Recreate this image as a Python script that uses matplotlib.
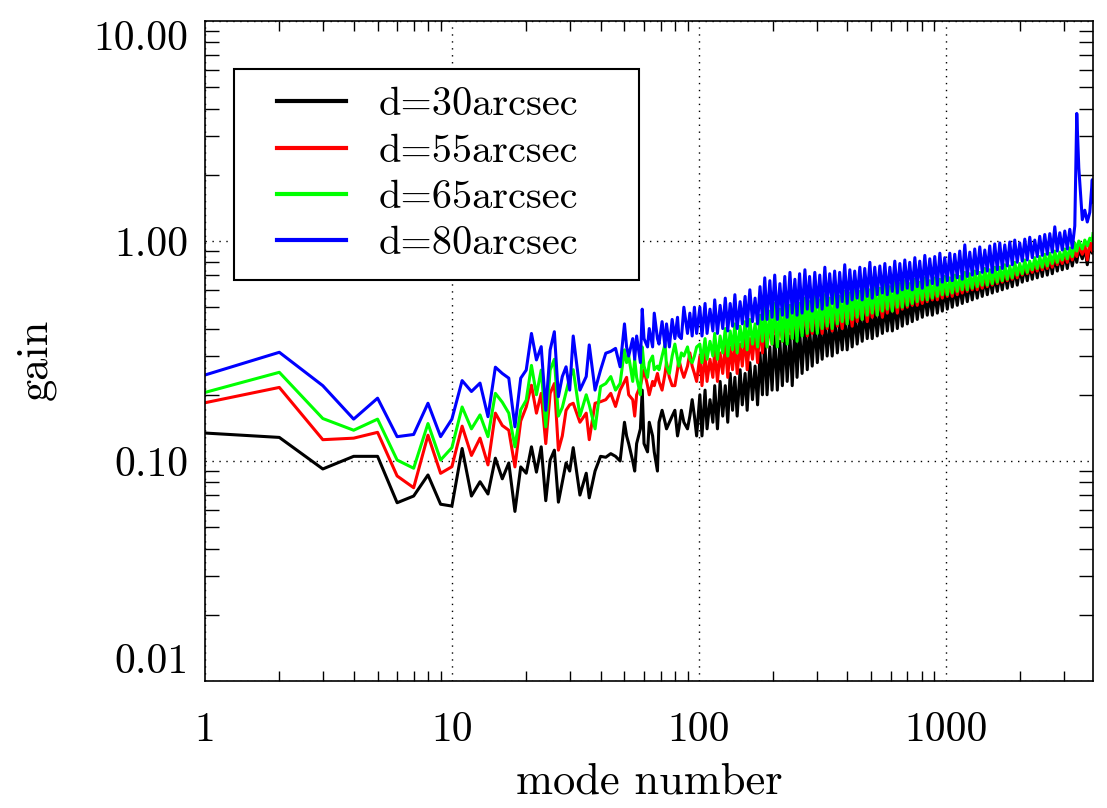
import matplotlib
matplotlib.use('Agg')
import matplotlib.pyplot as plt
from matplotlib.lines import Line2D
from matplotlib.legend_handler import HandlerLine2D
from matplotlib.ticker import LogLocator, NullFormatter

plt.rcParams['font.family'] = ['cmr10', 'DejaVu Serif']
plt.rcParams['axes.unicode_minus'] = False

# mode numbers: every mode up to 30, then sampled along the axis
modes_low = list(range(1, 31)) + [31, 33, 35, 36, 38, 40, 42, 44, 46, 48]
modes_50 = [
    50, 51, 52, 54, 55, 56, 58, 59, 60, 62,
    63, 65, 66, 68, 69, 71, 73, 74, 76, 78,
    80, 82, 83, 85, 87, 90, 92, 94, 96, 98]
modes_mid = [
    101, 103, 106, 108, 111, 114, 116, 119, 122, 125,
    128, 131, 134, 137, 140, 143, 147, 150, 154, 157,
    161, 165, 169, 173, 177, 181]
modes_dense = [
    185, 189, 194, 198, 203, 208, 213, 218, 223, 228,
    234, 239, 245, 250, 256, 262, 269, 275, 281, 288,
    295, 302, 309, 316, 324, 331, 339, 347, 355, 364,
    372, 381, 390, 399, 409, 418, 428, 438, 449, 459,
    470, 481, 493, 504, 516, 528, 541, 554, 567, 580,
    594, 608, 622, 637, 652, 667, 683, 699, 715, 732,
    750, 767, 785, 804, 823, 842, 862, 883, 903, 925,
    947, 969, 991, 1015, 1039, 1063, 1088, 1114, 1140, 1167,
    1195, 1223, 1252, 1281, 1311, 1342, 1374, 1406, 1440, 1474,
    1508, 1544, 1580, 1618, 1656, 1695, 1735, 1776, 1818, 1860,
    1904, 1949, 1995, 2042, 2091, 2140, 2190, 2242, 2295, 2349,
    2404, 2461, 2519, 2579, 2640, 2702, 2766, 2831, 2898, 2966,
    3036, 3108, 3181, 3256, 3333, 3395, 3460, 3575, 3659, 3745,
    3834, 3924, 3950]

d30_low = [
    .134, .128, .092, .105, .105, .0646, .0693, .0864, .0636, .0624,
    .114, .0693, .0805, .0708, .103, .083, .098, .059, .094, .088,
    .116, .089, .116, .066, .101, .112, .065, .08, .098, .09,
    .115, .07, .088, .068, .09, .105, .104, .108, .105, .10]
d30_50 = [
    .15, .13, .12, .10, .09, .12, .14, .21, .12, .11,
    .15, .13, .11, .09, .15, .17, .15, .14, .15, .16,
    .17, .13, .14, .17, .15, .14, .16, .19, .16, .13]
d30_mid = [
    .20, .13, .21, .14, .19, .15, .22, .14, .23, .16, .22, .15, .25,
    .17, .24, .16, .26, .18, .25, .17, .28, .19, .27, .18, .31, .20]
d30_dense = [
    .36, .20, .33, .21, .37, .21, .35, .22, .39, .23, .37, .22, .41, .24, .40, .25, .42, .26, .40, .27,
    .43, .28, .41, .29, .44, .30, .42, .30, .45, .31, .43, .32, .46, .32, .45, .33, .47, .34, .46, .35,
    .49, .36, .48, .36, .50, .37, .49, .38, .52, .39, .51, .39, .53, .40, .54, .41, .55, .42, .54, .43,
    .56, .44, .56, .45, .58, .46, .57, .46, .59, .47, .59, .48, .61, .49, .62, .50, .62, .51, .63, .52,
    .64, .53, .65, .54, .66, .55, .67, .56, .68, .57, .69, .58, .70, .59, .71, .60, .72, .61, .73, .62,
    .75, .63, .76, .65, .77, .66, .79, .67, .80, .68, .81, .69, .83, .70, .84, .71, .85, .73, .86, .74,
    .88, .75, .89, .77,
    .90, .80, .92, .83, .93, .78, .95, .88, .99]

d55_low = [
    .184, .216, .125, .127, .135, .0855, .0756, .131, .0879, .0942,
    .144, .106, .127, .096, .165, .145, .138, .094, .152, .176,
    .221, .165, .203, .12, .203, .225, .112, .13, .17, .18,
    .183, .15, .165, .125, .183, .186, .19, .203, .177, .21]
d55_50 = [
    .23, .24, .20, .19, .16, .20, .22, .24, .26, .22,
    .20, .23, .22, .25, .23, .21, .25, .28, .24, .22,
    .22, .26, .29, .26, .24, .27, .31, .27, .25, .23]
d55_mid = [
    .30, .22, .31, .23, .29, .24, .32, .23, .31, .25, .34, .24, .33,
    .26, .35, .25, .34, .27, .37, .26, .36, .29, .39, .28, .42, .31]
d55_dense = [
    .44, .33, .42, .34, .45, .34, .43, .35, .46, .35, .44, .36, .47, .37, .46, .38, .48, .37, .46, .38,
    .49, .39, .47, .38, .50, .40, .48, .39, .50, .41, .49, .40, .51, .42, .50, .41, .52, .43, .51, .44,
    .54, .43, .53, .45, .55, .46, .54, .45, .56, .47, .55, .48, .58, .47, .57, .49, .59, .50, .58, .51,
    .60, .51, .59, .52, .61, .53, .60, .54, .62, .54, .62, .55, .64, .56, .64, .56, .66, .57, .65, .58,
    .67, .59, .67, .60, .69, .60, .68, .61, .70, .62, .70, .63, .72, .64, .73, .65, .74, .66, .74, .67,
    .76, .68, .77, .70, .79, .71, .79, .72, .81, .73, .82, .74, .84, .75, .85, .76, .87, .78, .86, .79,
    .89, .80, .90, .82,
    .93, .85, .95, .87, .96, .82, .98, .90, 1.02]

d65_low = [
    .205, .253, .156, .138, .155, .101, .0927, .148, .101, .115,
    .176, .140, .162, .129, .203, .185, .165, .116, .171, .189,
    .272, .20, .259, .143, .259, .29, .16, .175, .205, .24,
    .26, .16, .20, .18, .14, .218, .225, .242, .21, .225]
d65_50 = [
    .32, .28, .30, .23, .29, .24, .20, .33, .27, .24,
    .28, .30, .26, .27, .26, .30, .34, .27, .25, .30,
    .34, .29, .27, .31, .30, .33, .29, .28, .30, .33]
d65_mid = [
    .34, .28, .36, .29, .35, .30, .38, .29, .37, .31, .40, .30, .39,
    .32, .42, .31, .41, .33, .43, .32, .44, .34, .42, .33, .46, .35]
d65_dense = [
    .50, .33, .48, .34, .52, .33, .49, .35, .53, .34, .51, .36, .54, .35, .52, .37, .55, .38, .53, .39,
    .56, .38, .54, .40, .57, .41, .55, .40, .58, .42, .56, .43, .59, .42, .58, .44, .60, .45, .59, .44,
    .62, .46, .60, .47, .63, .46, .61, .48, .64, .49, .62, .48, .65, .50, .64, .50, .66, .51, .64, .52,
    .67, .53, .65, .54, .68, .54, .66, .55, .68, .56, .67, .57, .69, .57, .68, .58, .70, .59, .69, .60,
    .72, .60, .71, .61, .73, .62, .72, .63, .75, .63, .74, .64, .76, .65, .76, .66, .78, .67, .77, .68,
    .80, .70, .79, .71, .82, .72, .81, .74, .84, .75, .85, .76, .87, .77, .88, .79, .90, .80, .89, .82,
    .92, .83, .93, .85,
    .98, .90, 1.00, .92, 1.01, .95, 1.03, 1.00, 1.08]

d80_low = [
    .246, .312, .220, .155, .193, .129, .132, .183, .129, .155,
    .232, .207, .226, .159, .267, .250, .238, .143, .238, .259,
    .380, .288, .331, .170, .320, .387, .196, .242, .268, .21,
    .37, .21, .242, .337, .21, .259, .309, .315, .325, .268]
d80_50 = [
    .42, .33, .30, .36, .29, .37, .28, .49, .36, .33,
    .40, .33, .47, .36, .34, .43, .33, .42, .33, .44,
    .36, .45, .37, .36, .50, .38, .47, .37, .50, .38]
d80_mid = [
    .50, .37, .52, .38, .49, .39, .54, .38, .51, .40, .55, .39, .52,
    .41, .57, .40, .53, .42, .56, .41, .60, .43, .55, .42, .62, .44]
d80_dense = [
    .68, .44, .66, .45, .70, .44, .64, .46, .69, .45, .72, .47, .67, .46, .71, .47, .74, .49, .69, .48,
    .72, .50, .70, .49, .76, .51, .71, .52, .73, .50, .72, .53, .78, .52, .74, .54, .73, .55, .76, .54,
    .75, .56, .80, .55, .76, .57, .77, .58, .79, .57, .76, .59, .81, .58, .79, .60, .82, .61, .80, .60,
    .84, .62, .81, .61, .86, .63, .83, .64, .85, .63, .88, .65, .84, .66, .88, .66, .87, .68, .90, .67,
    .96, .69, .89, .70, .92, .71, .94, .72, .91, .73, .95, .72, .97, .74, .98, .75, .96, .77, .99, .78,
    1.01, .80, .98, .81, 1.02, .82, 1.04, .84, 1.01, .85, 1.05, .86, 1.07, .87, 1.08, .89, 1.16, .90, 1.09, .91,
    1.11, .92, 1.13, .93,
    1.17, 3.8, 2.15, 1.25, 1.38, 1.22, 1.35, 1.9, 1.5]

modes = modes_low + modes_50 + modes_mid + modes_dense
series = [d30_low + d30_50 + d30_mid + d30_dense,
          d55_low + d55_50 + d55_mid + d55_dense,
          d65_low + d65_50 + d65_mid + d65_dense,
          d80_low + d80_50 + d80_mid + d80_dense]
labels = ['d=30arcsec', 'd=55arcsec', 'd=65arcsec', 'd=80arcsec']
colors = ['#000000', '#FF0000', '#00FF00', '#0000FF']

x_ticks = [1, 10, 100, 1000]
x_ticklabels = ['1', '10', '100', '1000']
y_ticks = [0.01, 0.1, 1.0, 10.0]
y_ticklabels = ['0.01', '0.10', '1.00', '10.00']

fig = plt.figure(figsize=(11.07, 8.08), dpi=100)
ax = fig.add_axes([205 / 1107, 127 / 808, 888 / 1107, 660 / 808])

for vals, col, lab in zip(series, colors, labels):
    ax.plot(modes, vals, color=col, lw=2.2, label=lab)

ax.set_xscale('log')
ax.set_yscale('log')
ax.set_xlim(1, 3950)
ax.set_ylim(0.01, 10)

ax.set_xticks(x_ticks)
ax.set_xticklabels(x_ticklabels, fontsize=30)
ax.set_yticks(y_ticks)
ax.set_yticklabels(y_ticklabels, fontsize=30)
ax.get_yticklabels()[0].set_va('bottom')
ax.get_yticklabels()[-1].set_va('top')

ax.xaxis.set_minor_locator(LogLocator(base=10, subs=range(2, 10), numticks=20))
ax.yaxis.set_minor_locator(LogLocator(base=10, subs=range(2, 10), numticks=20))
ax.xaxis.set_minor_formatter(NullFormatter())
ax.yaxis.set_minor_formatter(NullFormatter())

ax.tick_params(axis='x', which='major', length=0, pad=22)
ax.tick_params(axis='y', which='major', length=0, pad=12)
ax.tick_params(axis='x', which='minor', length=7.5, width=1.0, direction='in',
               top=True, bottom=True)
ax.tick_params(axis='y', which='minor', length=10, width=1.0, direction='in',
               left=True, right=True)
ax.grid(True, which='major', color='black', linestyle=(0, (1, 4)), lw=1.0)

for sp in ax.spines.values():
    sp.set_linewidth(1.2)

leg = ax.legend(loc='upper left', bbox_to_anchor=(0.0327, 0.6, 0.4561, 0.327),
                mode='expand', borderaxespad=0, fontsize=29,
                handlelength=2.33, handletextpad=0.8, borderpad=0.45,
                labelspacing=0.25, fancybox=False, edgecolor='black',
                framealpha=1, handler_map={Line2D: HandlerLine2D(xpad=0.62)})
leg.get_frame().set_linewidth(1.5)
for line in leg.get_lines():
    line.set_linewidth(3)

fig.text(649 / 1107, 1 - 793 / 808, 'mode number', fontsize=32,
         ha='center', va='baseline')
fig.text(36 / 1107, 1 - 359 / 808, 'gain', fontsize=32, rotation=90,
         ha='center', va='center')

fig.savefig('out.png', dpi=100)
